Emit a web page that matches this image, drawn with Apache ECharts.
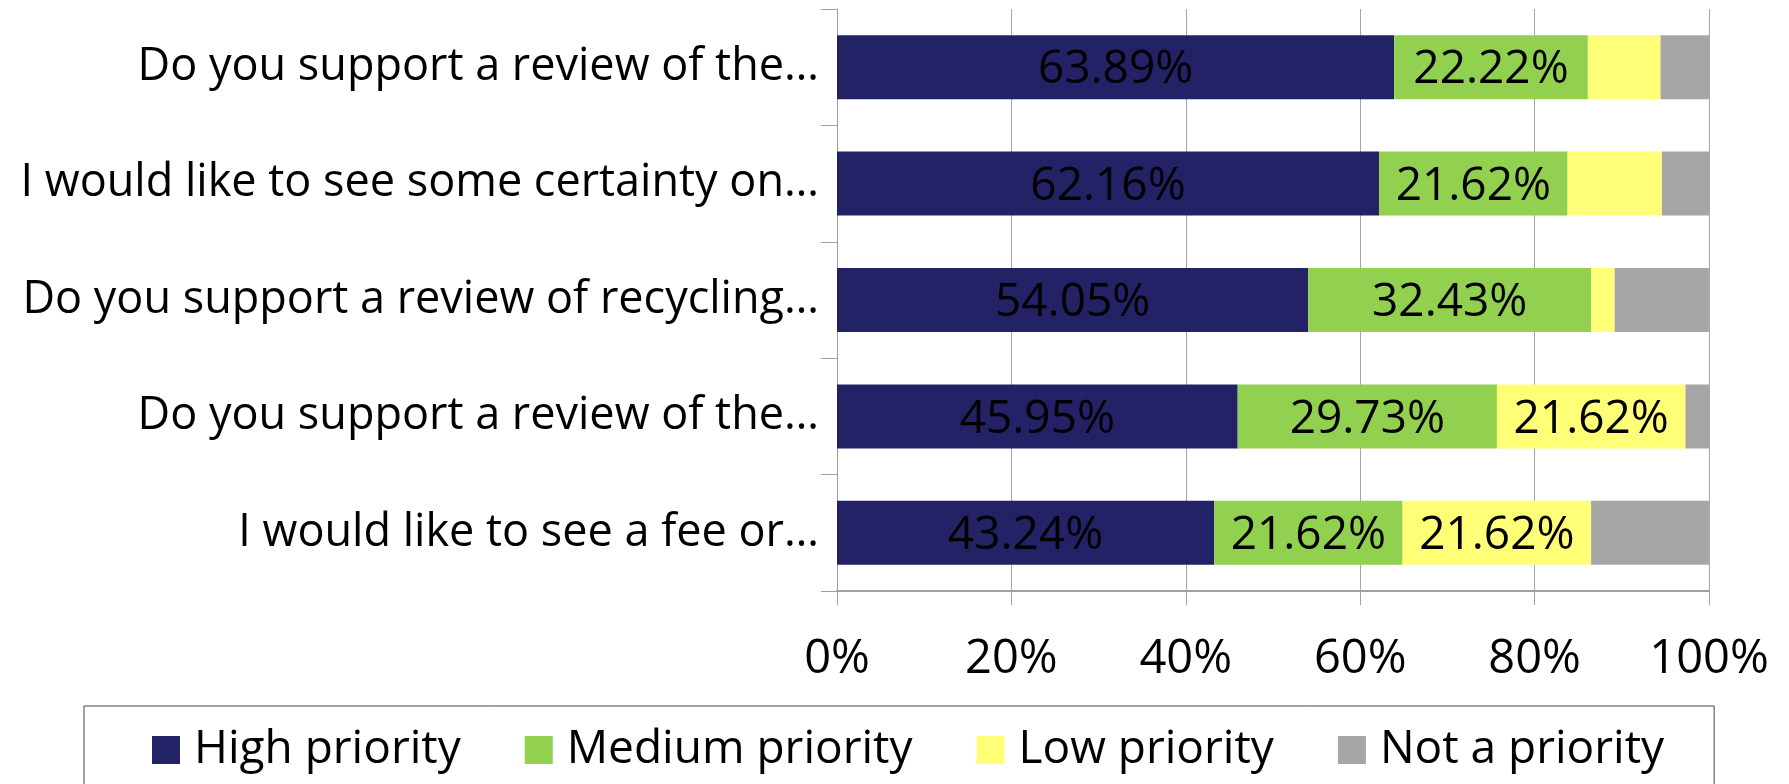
<!DOCTYPE html>
<html>
<head>
<meta charset="utf-8">
<script src="https://cdn.jsdelivr.net/npm/echarts@6/dist/echarts.min.js"></script>
<title>Priorities</title>
<style>
  html, body { margin: 0; padding: 0; background: #fff; }
  #main { width: 1789px; height: 784px; }
</style>
</head>
<body>
<div id="main"></div>
<script type="text/javascript">
    // categories, top to bottom as shown
    var questions = [
        'Do you support a review of the…',
        'I would like to see some certainty on…',
        'Do you support a review of recycling…',
        'Do you support a review of the…',
        'I would like to see a fee or…'
    ];
    var highPriority   = [63.89, 62.16, 54.05, 45.95, 43.24];
    var mediumPriority = [22.22, 21.62, 32.43, 29.73, 21.62];
    var lowPriority    = [8.33, 10.81, 2.70, 21.62, 21.62];
    var notPriority    = [5.56, 5.41, 10.81, 2.70, 13.51];
    var seriesNames = ['High priority', 'Medium priority', 'Low priority', 'Not a priority'];
    var seriesColors = ['#232266', '#92d050', '#ffff77', '#a6a6a6'];

    var myChart = echarts.init(document.getElementById('main'));
    var font = '"Open Sans", sans-serif';

    function makeSeries(name, data, color) {
        return {
            name: name,
            type: 'bar',
            stack: 'total',
            barWidth: 64,
            data: data,
            itemStyle: { color: color },
            label: {
                show: true,
                position: 'inside',
                offset: [0, 3],
                color: '#000',
                fontSize: 46,
                fontFamily: font,
                // only the larger segments carry a label
                formatter: function (p) {
                    return p.value >= 20 ? p.value.toFixed(2) + '%' : '';
                }
            }
        };
    }

    var option = {
        animation: false,
        grid: { left: 837, right: 80, top: 9, bottom: 193 },
        xAxis: {
            type: 'value',
            min: 0,
            max: 100,
            interval: 20,
            axisLine: { show: true, lineStyle: { color: '#a0a0a0', width: 2 } },
            axisTick: { show: true, length: 14, lineStyle: { color: '#a0a0a0' } },
            splitLine: { show: true, lineStyle: { color: '#a6a6a6', width: 1 } },
            axisLabel: {
                formatter: '{value}%',
                color: '#000',
                fontSize: 47,
                fontFamily: font,
                margin: 45
            }
        },
        yAxis: {
            type: 'category',
            inverse: true,
            data: questions,
            axisLine: { show: true, lineStyle: { color: '#a0a0a0', width: 1 } },
            axisTick: { show: true, length: 16, lineStyle: { color: '#a0a0a0' } },
            axisLabel: {
                color: '#000',
                fontSize: 45,
                fontFamily: font,
                margin: 18
            }
        },
        legend: {
            left: 84,
            top: 706,
            orient: 'horizontal',
            itemWidth: 28,
            itemHeight: 28,
            itemGap: 64,
            padding: [21, 50, 40, 68],
            borderColor: '#444',
            borderWidth: 1,
            icon: 'rect',
            textStyle: { color: '#000', fontSize: 46, fontFamily: font, padding: [0, 0, 0, 9] },
            data: seriesNames
        },
        series: [
            makeSeries(seriesNames[0], highPriority, seriesColors[0]),
            makeSeries(seriesNames[1], mediumPriority, seriesColors[1]),
            makeSeries(seriesNames[2], lowPriority, seriesColors[2]),
            makeSeries(seriesNames[3], notPriority, seriesColors[3])
        ]
    };

    myChart.setOption(option);
</script>
</body>
</html>
